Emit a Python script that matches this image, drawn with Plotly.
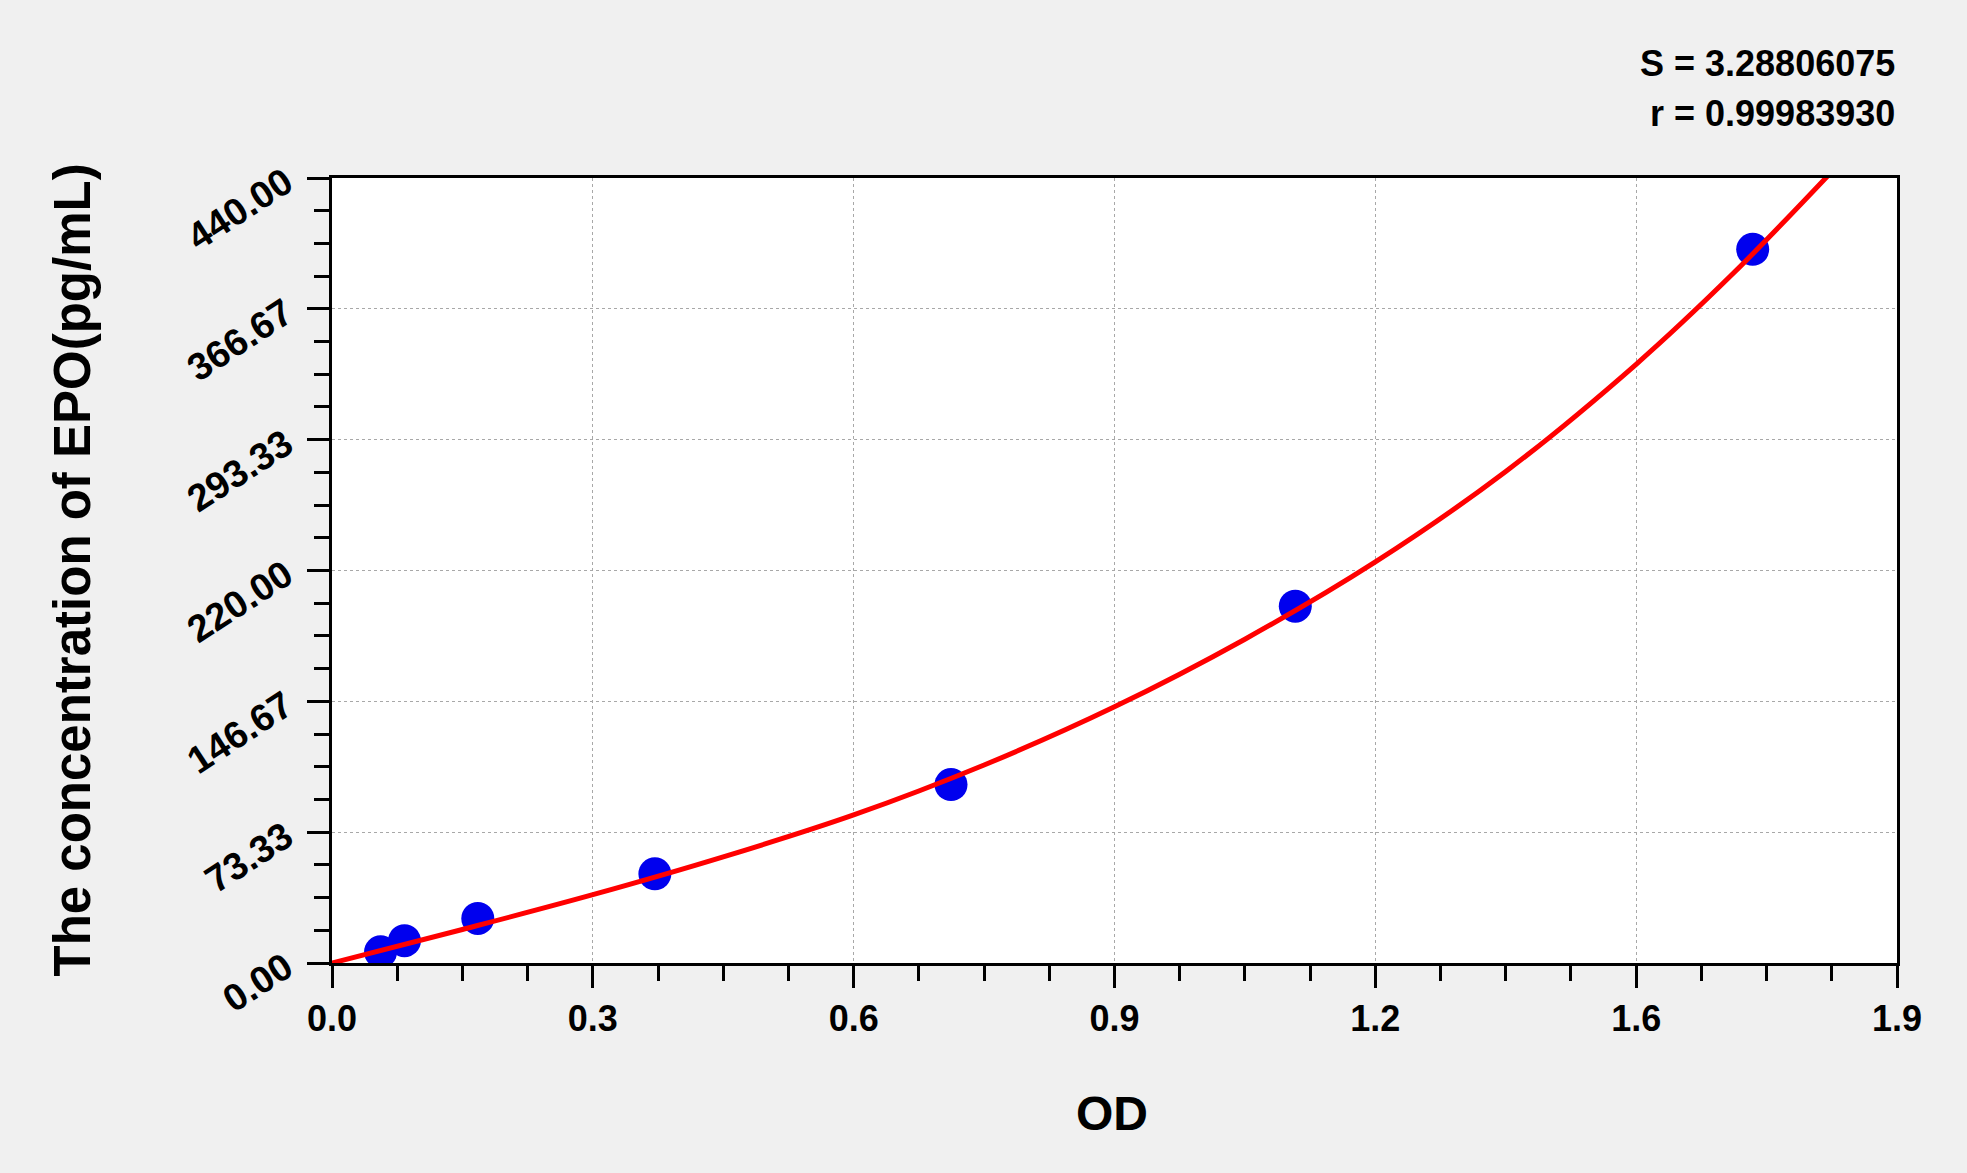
import plotly.graph_objects as go

# Standard points (OD vs concentration)
od_values = [0.059, 0.088, 0.177, 0.392, 0.7515, 1.1695, 1.7248]
conc_values = [6.25, 12.5, 25, 50, 100, 200, 400]

# Fitted curve
curve_od = [0.0, 0.1583, 0.3167, 0.475, 0.6333, 0.7917, 0.95, 1.1083, 1.2667, 1.425, 1.5833, 1.7, 1.8176]
curve_conc = [0.0, 18.8, 38.3, 59.5, 83.0, 111.0, 143.6, 181.5, 224.8, 275.5, 335.6, 386.0, 442.0]

# Axis ticks
x_tickvals = [0.0, 1.9 / 6, 2 * 1.9 / 6, 3 * 1.9 / 6, 4 * 1.9 / 6, 5 * 1.9 / 6, 1.9]
x_ticktext = ["0.0", "0.3", "0.6", "0.9", "1.2", "1.6", "1.9"]
y_max = 440.0
x_max = 1.9

stat_S = "S = 3.28806075"
stat_r = "r = 0.99983930"

FONT = "Liberation Sans, Arial, sans-serif"

fig = go.Figure()
fig.add_trace(go.Scatter(
    x=od_values, y=conc_values, mode="markers",
    marker=dict(color="#0000ee", size=33, line=dict(width=0)),
    showlegend=False, hoverinfo="skip",
))
fig.add_trace(go.Scatter(
    x=curve_od, y=curve_conc, mode="lines", line_shape="spline",
    line=dict(color="#ff0000", width=5),
    cliponaxis=False, showlegend=False, hoverinfo="skip",
))

axis_common = dict(
    showline=True, linecolor="black", linewidth=3, mirror=True,
    ticks="outside", ticklen=22, tickwidth=3, tickcolor="black",
    showgrid=True, gridcolor="#a8a8a8", gridwidth=1, griddash="dot",
    zeroline=False,
)

fig.update_xaxes(
    range=[0, x_max], tickmode="array", tickvals=x_tickvals, ticktext=x_ticktext,
    minor=dict(tick0=0, dtick=x_max / 24, ticks="outside", ticklen=15, tickwidth=3,
               tickcolor="black", showgrid=False),
    ticklabelstandoff=0,
    tickfont=dict(family=FONT, size=36, color="black", weight="bold"),
    **axis_common,
)
fig.update_yaxes(
    range=[0, y_max], tick0=0, dtick=y_max / 6, tickformat=".2f", tickangle=-33,
    minor=dict(tick0=0, dtick=y_max / 24, ticks="outside", ticklen=15, tickwidth=3,
               tickcolor="black", showgrid=False),
    ticklabelstandoff=14,
    tickfont=dict(family=FONT, size=38, color="black", weight="bold"),
    **axis_common,
)

fig.update_layout(
    width=1967, height=1173,
    margin=dict(l=332, r=70, t=178, b=210),
    paper_bgcolor="#f0f0f0", plot_bgcolor="white",
    annotations=[
        dict(text="OD", xref="paper", yref="paper", x=(1112 - 332) / 1565, y=(963 - 1113) / 785,
             showarrow=False, xanchor="center", yanchor="middle",
             font=dict(family=FONT, size=48, color="black", weight="bold")),
        dict(text="The concentration of EPO(pg/mL)", xref="paper", yref="paper",
             x=(72 - 332) / 1565, y=0.5, textangle=-90,
             showarrow=False, xanchor="center", yanchor="middle",
             font=dict(family=FONT, size=51, color="black", weight="bold")),
        dict(text=stat_S, xref="paper", yref="paper", x=(1897 - 332) / 1565, y=(963 - 63) / 785,
             showarrow=False, xanchor="right", yanchor="middle",
             font=dict(family=FONT, size=36, color="black", weight="bold")),
        dict(text=stat_r, xref="paper", yref="paper", x=(1897 - 332) / 1565, y=(963 - 113) / 785,
             showarrow=False, xanchor="right", yanchor="middle",
             font=dict(family=FONT, size=36, color="black", weight="bold")),
    ],
)

fig.write_html("out.html", config={"displayModeBar": False},
               post_script="document.body.style.margin='0';")
